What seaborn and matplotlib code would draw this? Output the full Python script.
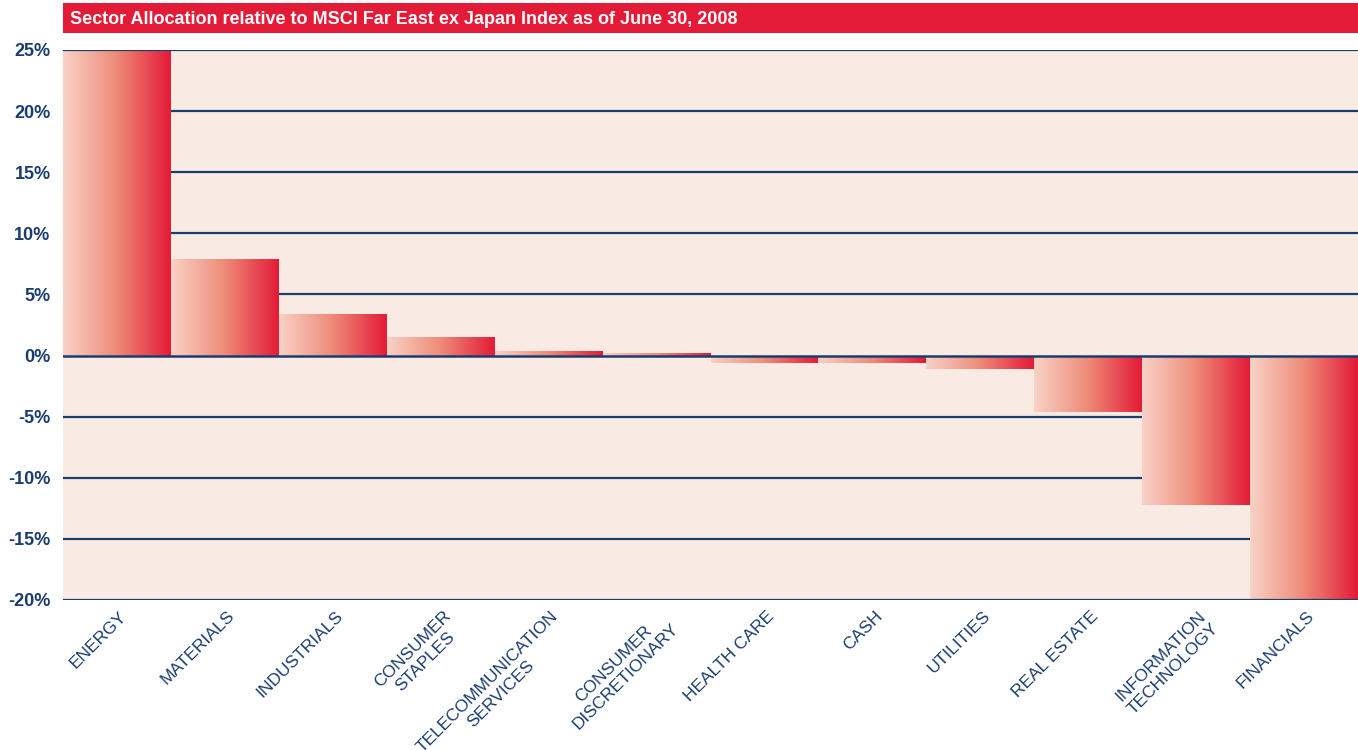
import matplotlib
matplotlib.use("Agg")
import matplotlib.pyplot as plt
import seaborn as sns
import numpy as np
import pandas as pd
from matplotlib.colors import LinearSegmentedColormap
from matplotlib.patches import Rectangle

# data
sectors = ["ENERGY", "MATERIALS", "INDUSTRIALS", "CONSUMER\nSTAPLES",
           "TELECOMMUNICATION\nSERVICES", "CONSUMER\nDISCRETIONARY", "HEALTH CARE",
           "CASH", "UTILITIES", "REAL ESTATE", "INFORMATION\nTECHNOLOGY", "FINANCIALS"]
relative_weight = [24.9, 7.9, 3.4, 1.5, 0.4, 0.2, -0.6, -0.6, -1.1, -4.6, -12.2, -20.0]
y_ticks = [-20, -15, -10, -5, 0, 5, 10, 15, 20, 25]
title = "Sector Allocation relative to MSCI Far East ex Japan Index as of June 30, 2008"

NAVY = "#1b3d6e"
RED = "#e31b37"
BG = "#f9ebe4"

sns.set_style("white")
plt.rcParams["font.family"] = ["Liberation Sans", "DejaVu Sans"]

df = pd.DataFrame({"sector": sectors, "value": relative_weight})

fig = plt.figure(figsize=(13.58, 7.5), dpi=100)
ax = fig.add_axes([63 / 1358, 0.2, 1 - 63 / 1358, 550 / 750])
ax.set_facecolor(BG)

sns.barplot(data=df, x="sector", y="value", width=1.0, color=RED, ax=ax, zorder=2)

# horizontal gradient inside every bar
cmap = LinearSegmentedColormap.from_list("grad", ["#f8d2c6", "#ee8a78", RED])
grad = np.linspace(0, 1, 256).reshape(1, -1)
for p in ax.patches:
    x0, y0 = p.get_x(), p.get_y()
    w, h = p.get_width(), p.get_height()
    y_lo, y_hi = min(y0, y0 + h), max(y0, y0 + h)
    im = ax.imshow(grad, cmap=cmap, aspect="auto", extent=[x0, x0 + w, y_lo, y_hi],
                   zorder=2, interpolation="bicubic")
    im.set_clip_path(p)
    p.set_facecolor("none")
    p.set_edgecolor("none")

ax.set_xlim(-0.5, len(sectors) - 0.5)
ax.set_ylim(-20, 25)
ax.set_yticks(y_ticks)
ax.set_yticklabels([f"{t}%" for t in y_ticks])

for t in y_ticks:
    on_top = t in (0, 25, -20)
    ax.axhline(t, color=NAVY, lw=1.8 if t == 0 else 1.6, zorder=3 if on_top else 1)

for s in ax.spines.values():
    s.set_visible(False)
ax.tick_params(axis="both", length=0)
ax.tick_params(axis="y", pad=9)
for lbl in ax.get_yticklabels():
    lbl.set_color(NAVY)
    lbl.set_fontweight("bold")
    lbl.set_fontsize(13)

ax.set_xticks(range(len(sectors)))
ax.set_xticklabels(sectors, rotation=45, ha="right", va="top", rotation_mode="anchor",
                   color=NAVY, fontsize=12.5, multialignment="center", linespacing=1.25)
ax.tick_params(axis="x", pad=6)
for lbl in ax.get_xticklabels():
    lbl.set_transform(lbl.get_transform() + matplotlib.transforms.ScaledTranslation(0.02, 0, fig.dpi_scale_trans))
ax.set_xlabel("")
ax.set_ylabel("")

# red title bar
fig.patches.append(Rectangle((63 / 1358, 1 - 33 / 750), 1 - 63 / 1358, 30 / 750,
                             transform=fig.transFigure, facecolor=RED, edgecolor="none"))
fig.text(70 / 1358, 1 - 19 / 750, title, color="white", fontweight="bold",
         fontsize=13, va="center", ha="left")

fig.savefig("out.png", dpi=100)
